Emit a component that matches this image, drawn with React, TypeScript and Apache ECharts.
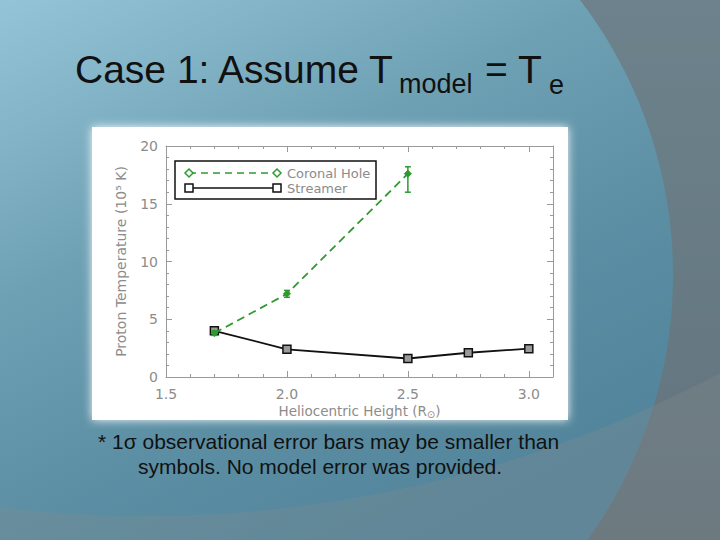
import { useEffect, useRef } from "react";
import * as echarts from "echarts";

// Heliocentric heights (R_sun) and proton temperatures (10^5 K)
const HEIGHTS = [1.7, 2.0, 2.5, 2.75, 3.0];
const CORONAL_HEIGHTS = [1.7, 2.0, 2.5];
const CORONAL_HOLE = [3.8, 7.2, 17.6];
const CORONAL_LOW = [3.6, 6.9, 16.0];
const CORONAL_HIGH = [4.0, 7.5, 18.2];
const STREAMER = [4.0, 2.4, 1.6, 2.1, 2.45];

const X_MIN = 1.5;
const X_MAX = 3.1;
const Y_MIN = 0;
const Y_MAX = 20;

const GREEN = "#2f9a2f";
const AXIS_GRAY = "#9a9a9a";
const LABEL_GRAY = "#8c8c8c";
const SLIDE_FONT = "Liberation Sans, Arial, sans-serif";
const PLOT_FONT = "DejaVu Sans, sans-serif";

function baseAxis(extra: any) {
  return {
    type: "value",
    axisLine: { show: true, onZero: false, lineStyle: { color: AXIS_GRAY, width: 1 } },
    axisTick: { show: true, inside: true, length: 6, lineStyle: { color: AXIS_GRAY } },
    minorTick: { show: true, splitNumber: 5, length: 3, lineStyle: { color: AXIS_GRAY } },
    splitLine: { show: false },
    ...extra,
  };
}

export default function App() {
  const ref = useRef<HTMLDivElement>(null);

  useEffect(() => {
    if (!ref.current) return;
    const chart = echarts.init(ref.current, null, { renderer: "svg" });

    const labelStyle = { color: LABEL_GRAY, fontSize: 13, fontFamily: PLOT_FONT };

    const option: any = {
      animation: false,
      graphic: [
        // slide background
        {
          type: "rect",
          z: -30,
          shape: { x: 0, y: 0, width: 720, height: 540 },
          style: {
            fill: new echarts.graphic.LinearGradient(0, 0, 0, 1, [
              { offset: 0, color: "#6d828c" },
              { offset: 1, color: "#62747d" },
            ]),
          },
        },
        {
          type: "circle",
          z: -29,
          shape: { cx: 220, cy: 275, r: 453 },
          style: {
            fill: new echarts.graphic.LinearGradient(
              0, 0, 300, 600,
              [
                { offset: 0, color: "#94c4d8" },
                { offset: 0.4, color: "#6fa1b5" },
                { offset: 0.7, color: "#5c8fa4" },
                { offset: 1, color: "#52859b" },
              ],
              true
            ),
          },
        },
        {
          type: "ring",
          z: -28,
          shape: { cx: 146, cy: -708, r: 2600, r0: 1224 },
          style: { fill: "rgba(140,140,140,0.25)" },
        },
        // white panel behind the plot
        {
          type: "rect",
          z: -20,
          shape: { x: 92, y: 127, width: 476, height: 293 },
          style: { fill: "#ffffff", shadowBlur: 10, shadowColor: "rgba(255,255,255,0.95)" },
        },
        // title
        {
          type: "text",
          z: 10,
          x: 75,
          y: 69,
          style: {
            text: "Case 1: Assume T",
            fill: "#111",
            fontSize: 39,
            fontFamily: SLIDE_FONT,
            verticalAlign: "middle",
          },
        },
        {
          type: "text",
          z: 10,
          x: 399,
          y: 84,
          style: { text: "model", fill: "#111", fontSize: 27, fontFamily: SLIDE_FONT, verticalAlign: "middle" },
        },
        {
          type: "text",
          z: 10,
          x: 485,
          y: 69,
          style: { text: "= T", fill: "#111", fontSize: 39, fontFamily: SLIDE_FONT, verticalAlign: "middle" },
        },
        {
          type: "text",
          z: 10,
          x: 549,
          y: 85,
          style: { text: "e", fill: "#111", fontSize: 27, fontFamily: SLIDE_FONT, verticalAlign: "middle" },
        },
        // footnote
        {
          type: "text",
          z: 10,
          x: 98,
          y: 441,
          style: {
            text: "* 1σ observational error bars may be smaller than",
            fill: "#111",
            fontSize: 21,
            fontFamily: SLIDE_FONT,
            verticalAlign: "middle",
          },
        },
        {
          type: "text",
          z: 10,
          x: 138,
          y: 466,
          style: {
            text: "symbols. No model error was provided.",
            fill: "#111",
            fontSize: 21,
            fontFamily: SLIDE_FONT,
            verticalAlign: "middle",
          },
        },
        // legend box
        {
          type: "rect",
          z: 20,
          shape: { x: 175, y: 161, width: 201, height: 38 },
          style: { fill: "#fff", stroke: "#111", lineWidth: 1.5 },
        },
        {
          type: "line",
          z: 21,
          shape: { x1: 189, y1: 173, x2: 277, y2: 173 },
          style: { stroke: GREEN, lineWidth: 1.5, lineDash: [7, 5] },
        },
        {
          type: "polygon",
          z: 22,
          shape: { points: [[189, 169], [193, 173], [189, 177], [185, 173]] },
          style: { fill: "#fff", stroke: GREEN, lineWidth: 1.5 },
        },
        {
          type: "polygon",
          z: 22,
          shape: { points: [[277, 169], [281, 173], [277, 177], [273, 173]] },
          style: { fill: "#fff", stroke: GREEN, lineWidth: 1.5 },
        },
        {
          type: "text",
          z: 22,
          x: 287,
          y: 173,
          style: { text: "Coronal Hole", fill: LABEL_GRAY, fontSize: 13, fontFamily: PLOT_FONT, verticalAlign: "middle" },
        },
        {
          type: "line",
          z: 21,
          shape: { x1: 189, y1: 188, x2: 277, y2: 188 },
          style: { stroke: "#111", lineWidth: 1.5 },
        },
        {
          type: "rect",
          z: 22,
          shape: { x: 185, y: 184, width: 8, height: 8 },
          style: { fill: "#fff", stroke: "#111", lineWidth: 1.5 },
        },
        {
          type: "rect",
          z: 22,
          shape: { x: 273, y: 184, width: 8, height: 8 },
          style: { fill: "#fff", stroke: "#111", lineWidth: 1.5 },
        },
        {
          type: "text",
          z: 22,
          x: 287,
          y: 188,
          style: { text: "Streamer", fill: LABEL_GRAY, fontSize: 13, fontFamily: PLOT_FONT, verticalAlign: "middle" },
        },
      ],
      grid: { left: 166, right: 167, top: 146, bottom: 163 },
      xAxis: [
        baseAxis({
          position: "bottom",
          min: X_MIN,
          max: X_MAX,
          interval: 0.5,
          name: "Heliocentric Height (R{sub|⊙})",
          nameLocation: "middle",
          nameGap: 25,
          nameTextStyle: {
            ...labelStyle,
            fontSize: 13.5,
            rich: { sub: { fontSize: 10, color: LABEL_GRAY, fontFamily: PLOT_FONT, padding: [7, 0, 0, 0] } },
          },
          axisLabel: {
            ...labelStyle,
            fontSize: 14,
            margin: 10,
            showMaxLabel: false,
            formatter: (v: number) => v.toFixed(1),
          },
        }),
        baseAxis({
          position: "top",
          min: X_MIN,
          max: X_MAX,
          interval: 0.5,
          axisLabel: { show: false },
        }),
      ],
      yAxis: [
        baseAxis({
          position: "left",
          min: Y_MIN,
          max: Y_MAX,
          interval: 5,
          name: "Proton Temperature (10⁵ K)",
          nameLocation: "middle",
          nameGap: 38,
          nameRotate: 90,
          nameTextStyle: { ...labelStyle, fontSize: 14 },
          axisLabel: { ...labelStyle, fontSize: 14, margin: 8 },
        }),
        baseAxis({
          position: "right",
          min: Y_MIN,
          max: Y_MAX,
          interval: 5,
          axisLabel: { show: false },
        }),
      ],
      series: [
        {
          name: "Streamer",
          type: "line",
          data: HEIGHTS.map((h, i) => [h, STREAMER[i]]),
          symbol: "rect",
          symbolSize: 8,
          lineStyle: { color: "#111", width: 1.8 },
          itemStyle: { color: "#9a9a9a", borderColor: "#111", borderWidth: 1.5 },
          z: 3,
        },
        {
          name: "Coronal Hole",
          type: "line",
          data: CORONAL_HEIGHTS.map((h, i) => [h, CORONAL_HOLE[i]]),
          symbol: "diamond",
          symbolSize: 7,
          lineStyle: { color: GREEN, width: 1.8, type: [8, 5] },
          itemStyle: { color: GREEN, borderColor: GREEN, borderWidth: 1 },
          z: 4,
        },
        {
          name: "Coronal Hole error",
          type: "custom",
          data: CORONAL_HEIGHTS.map((h, i) => [h, CORONAL_LOW[i], CORONAL_HIGH[i]]),
          encode: { x: 0, y: [1, 2] },
          z: 5,
          renderItem: (_params: any, api: any) => {
            const x = api.value(0);
            const lo = api.coord([x, api.value(1)]);
            const hi = api.coord([x, api.value(2)]);
            const cap = 3;
            const style = { stroke: GREEN, lineWidth: 1.5 };
            return {
              type: "group",
              children: [
                { type: "line", shape: { x1: lo[0], y1: lo[1], x2: hi[0], y2: hi[1] }, style },
                { type: "line", shape: { x1: lo[0] - cap, y1: lo[1], x2: lo[0] + cap, y2: lo[1] }, style },
                { type: "line", shape: { x1: hi[0] - cap, y1: hi[1], x2: hi[0] + cap, y2: hi[1] }, style },
              ],
            };
          },
        },
      ],
    };

    chart.setOption(option);
    return () => chart.dispose();
  }, []);

  return (
    <div
      ref={ref}
      style={{ position: "absolute", left: 0, top: 0, width: 720, height: 540 }}
    />
  );
}
